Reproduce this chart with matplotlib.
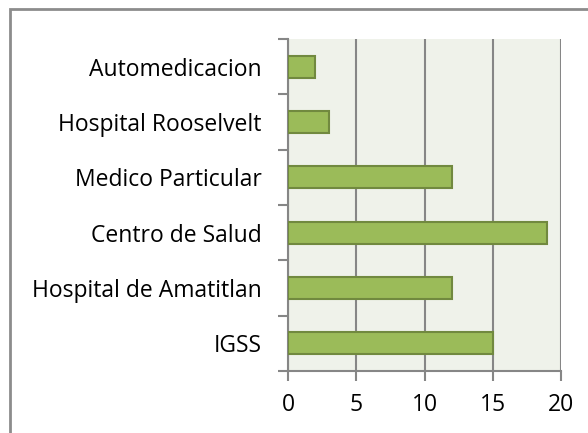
import matplotlib

matplotlib.use("Agg")
import matplotlib.pyplot as plt
from matplotlib.patches import Rectangle

categories = ["IGSS", "Hospital de Amatitlan", "Centro de Salud",
              "Medico Particular", "Hospital Rooselvelt", "Automedicacion"]
values = [15, 12, 19, 12, 3, 2]
xticks = [0, 5, 10, 15, 20]

W, H = 588, 433
fig = plt.figure(figsize=(W / 100, H / 100), dpi=100)
plt.rcParams["font.family"] = ["Open Sans", "DejaVu Sans"]
FS = 16.5

ax = fig.add_axes([288 / W, 1 - 371 / H, (561 - 288) / W, (371 - 39) / H])
ax.set_facecolor("#EFF2EA")

pos = list(range(len(categories)))
ax.barh(pos, values, height=0.4, color="#9BBB59", edgecolor="#71893F",
        linewidth=1.5, zorder=3)

ax.set_xlim(0, 20)
ax.set_ylim(-0.5, len(categories) - 0.5)
ax.set_xticks(xticks)
ax.set_xticklabels([str(t) for t in xticks], fontsize=FS)
ax.set_yticks([p - 0.5 for p in pos] + [len(categories) - 0.5])
ax.set_yticklabels([])
ax.set_yticks(pos, minor=True)
ax.set_yticklabels(categories, minor=True, fontsize=FS)
ax.tick_params(axis="y", which="minor", length=0, pad=19)
ax.tick_params(axis="y", which="major", length=7, width=1.5, color="#868686")
ax.tick_params(axis="x", length=7, width=1.5, color="#868686", pad=9)

ax.grid(axis="x", color="#868686", linewidth=1.5, zorder=0)
for side in ["top", "right"]:
    ax.spines[side].set_visible(False)
for side in ["left", "bottom"]:
    ax.spines[side].set_color("#868686")
    ax.spines[side].set_linewidth(1.5)

# outer chart frame, cut off at the right and bottom edges
fig.patches.append(Rectangle((9.5 / W, -0.1), 1.2, 1 - 8.5 / H + 0.1,
                             transform=fig.transFigure, fill=False,
                             edgecolor="#8C8C8C", linewidth=2))

fig.savefig("out.png", dpi=100)
